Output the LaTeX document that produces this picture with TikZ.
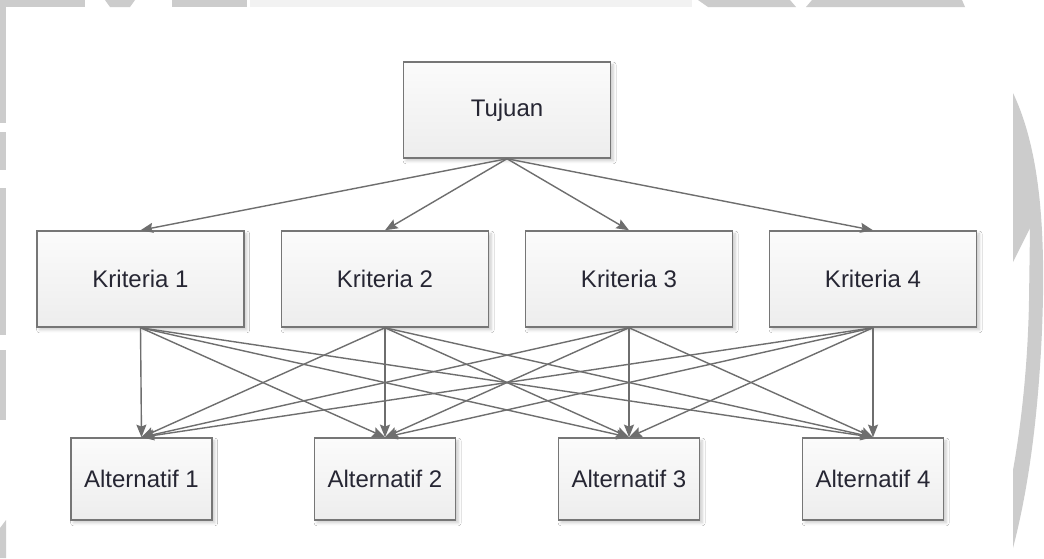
\documentclass[tikz,border=0pt]{standalone}
\usepackage{fontspec}
\setmainfont{Liberation Sans}
\usetikzlibrary{arrows.meta,shadows.blur}
\definecolor{wm}{HTML}{CCCCCC}
\definecolor{wmlight}{HTML}{F2F2F2}
\definecolor{edge}{HTML}{6E6E6E}
\definecolor{boxline}{HTML}{767676}
\definecolor{ink}{HTML}{262633}
\tikzset{
  box/.style={draw=boxline, line width=1.1pt, top color=white!97!gray,
    bottom color=gray!14, text=ink, font=\fontsize{18}{20}\selectfont,
    blur shadow={shadow xshift=2pt, shadow yshift=-2.2pt, shadow blur steps=6,
      shadow opacity=20}, inner sep=0pt},
  bigbox/.style={box, minimum width=155.5pt, minimum height=72pt},
  smallbox/.style={box, minimum width=106pt, minimum height=61.5pt},
  link/.style={draw=edge, line width=1.05pt,
    -{Stealth[length=9.5pt,width=7.5pt,inset=1.5pt]}}
}
\begin{document}
\begin{tikzpicture}[x=0.75pt,y=-0.75pt]
  \useasboundingbox (0,0) rectangle (1044,558);
  \fill[white] (0,0) rectangle (1044,558);
  % faint logo shapes behind the page edges
  \fill[wm] (0,0) rectangle (85,7);
  \fill[wm] (105,0) -- (135,0) -- (130,7) -- (110,7) -- cycle;
  \fill[wm] (172,0) rectangle (247,7);
  \fill[wmlight] (250,0) rectangle (692,7);
  \fill[wm] (698,0) -- (790,0) -- (796,7) -- (708,7) -- cycle;
  \fill[wm] (812,0) -- (962,0) -- (965,7) -- (806,7) -- cycle;
  \fill[wm] (0,7) rectangle (6,123);
  \fill[wm] (0,132) rectangle (6,170);
  \fill[wm] (0,188) rectangle (6,335);
  \fill[wm] (0,350) rectangle (6,420);
  \fill[wm] (0,528) -- (6,520) -- (6,558) -- (0,558) -- cycle;
  \fill[wm] (1013,93) .. controls (1040,150) and (1046,230) .. (1042,330)
    .. controls (1038,420) and (1028,490) .. (1013,548)
    -- (1013,470) .. controls (1022,420) and (1028,360) .. (1029,300)
    -- (1030,228) -- (1013,262) -- cycle;

  % goal
  \node[bigbox] (T) at (507,110) {Tujuan};
  % criteria
  \node[bigbox] (K1) at (140.5,279) {Kriteria 1};
  \node[bigbox] (K2) at (385,279) {Kriteria 2};
  \node[bigbox] (K3) at (629,279) {Kriteria 3};
  \node[bigbox] (K4) at (873,279) {Kriteria 4};
  % alternatives
  \node[smallbox] (A1) at (141.5,479) {Alternatif 1};
  \node[smallbox] (A2) at (385,479) {Alternatif 2};
  \node[smallbox] (A3) at (629,479) {Alternatif 3};
  \node[smallbox] (A4) at (873,479) {Alternatif 4};

  % goal to criteria
  \foreach \k in {1,...,4}
    \draw[link] (T.south) -- (K\k.north);
  % every criterion to every alternative
  \foreach \k in {1,...,4}
    \foreach \a in {1,...,4}
      \draw[link] (K\k.south) -- (A\a.north);
\end{tikzpicture}
\end{document}
